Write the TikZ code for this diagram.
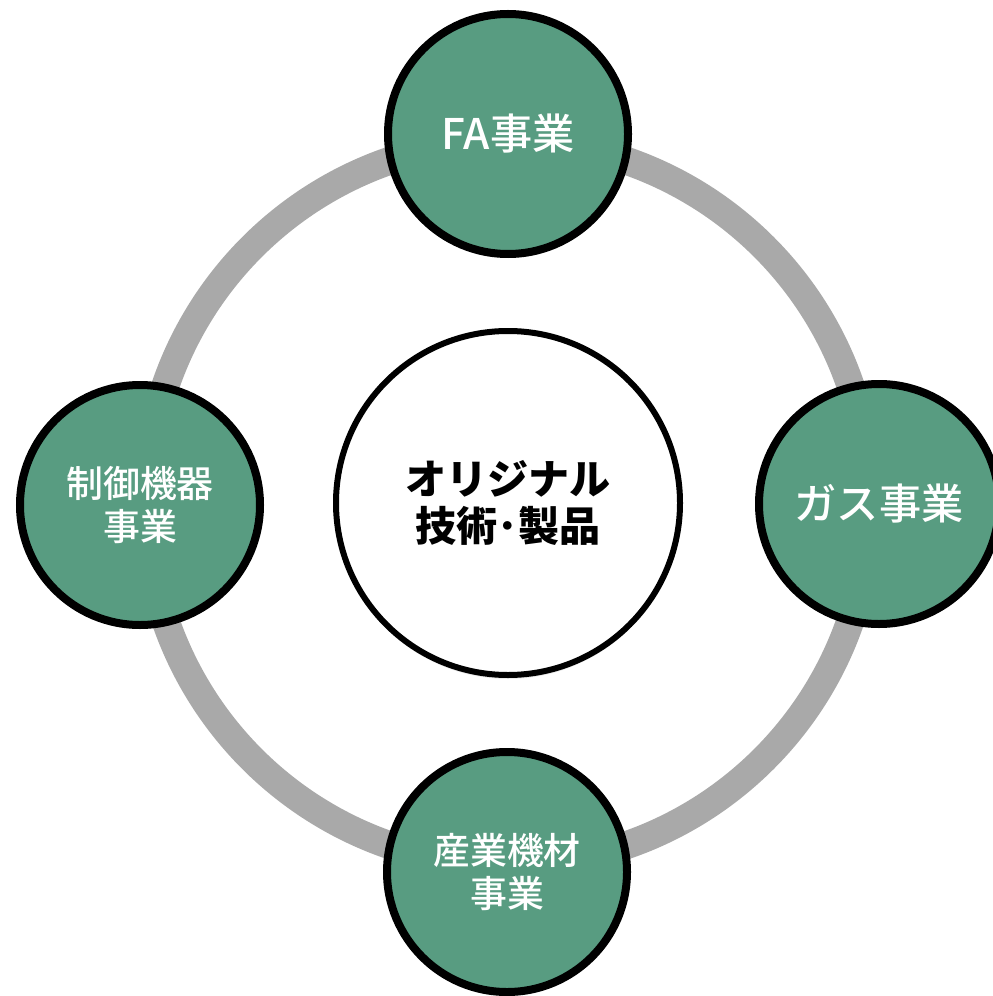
\documentclass[tikz,border=0pt]{standalone}
\usepackage{fontspec}
\newfontfamily\jp{Noto Sans CJK JP}
\newfontfamily\jpmed{Noto Sans CJK JP Medium}
\usetikzlibrary{shadows}

\definecolor{bizgreen}{RGB}{88,156,129}
\definecolor{ringgray}{RGB}{169,169,169}

\tikzset{
    biz/.style={circle, draw=black, line width=0.08cm, fill=bizgreen, minimum size=2.40cm,
        text=white, align=center, drop shadow={opacity=0.15, shadow xshift=0cm, shadow yshift=-0.04cm}},
    corebox/.style={circle, draw=black, line width=0.06cm, fill=white, minimum size=3.44cm,
        align=center, font=\jp\bfseries\fontsize{11.7}{13.6}\selectfont, drop shadow={opacity=0.15, shadow xshift=0cm, shadow yshift=-0.04cm}}
}

\begin{document}
\begin{tikzpicture}

    \useasboundingbox (0,0) rectangle (9.92,-9.96);

    \coordinate (mid) at (5.08,-5.03);
    \draw [line width=0.28cm, ringgray] (mid) circle (3.62);

    \node[corebox] at (mid) (core) {オリジナル\\技術･製品};

    \node[biz, font=\jpmed\fontsize{12}{14}\selectfont] at (5.08,-1.34) (fa) {FA事業};
    \node[biz, font=\jpmed\fontsize{12}{14}\selectfont] at (8.79,-5.04) (gas) {ガス事業};
    \node[biz, font=\jpmed\fontsize{10.5}{12.2}\selectfont] at (1.40,-5.05) (ctrl) {制御機器\\事業};
    \node[biz, font=\jpmed\fontsize{10.5}{12.2}\selectfont] at (5.07,-8.72) (mach) {産業機材\\事業};

\end{tikzpicture}
\end{document}
